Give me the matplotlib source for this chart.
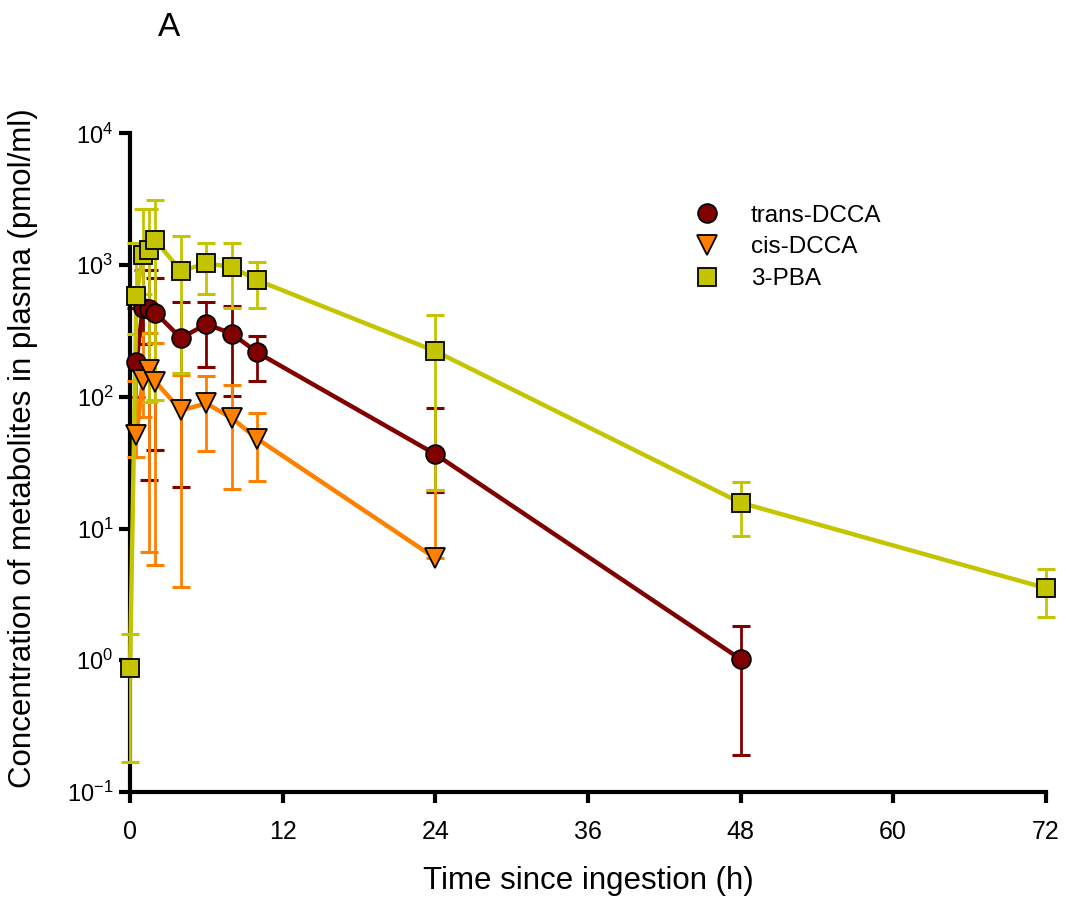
import matplotlib
matplotlib.use("Agg")
import matplotlib.pyplot as plt
from matplotlib.lines import Line2D

plt.rcParams['font.family'] = ['Liberation Sans', 'DejaVu Sans']

# data (pmol/ml)
trans_t = [0.5, 1, 1.5, 2, 4, 6, 8, 10, 24, 48]
trans_val = [184, 470, 462, 434, 279, 356, 302, 217, 36.7, 1.02]
trans_lo = [100, 250, 23.3, 39.4, 20.7, 168, 101, 131, 19, 0.19]
trans_hi = [470, 914, 914, 800, 522, 522, 487, 288, 82.4, 1.82]

cis_t = [0.5, 1, 1.5, 2, 4, 6, 8, 10, 24]
cis_val = [51, 134, 159, 130, 79, 89, 69, 48, 5.96]
cis_lo = [35, 70, 6.67, 5.27, 3.61, 38.8, 19.8, 22.9, 5.96]
cis_hi = [131, 305, 305, 255, 146, 144, 122, 74.7, 19.5]

pba_t = [0, 0.5, 1, 1.5, 2, 4, 6, 8, 10, 24, 48, 72]
pba_val = [0.87, 580, 1190, 1295, 1540, 900, 1030, 967, 767, 222, 15.7, 3.53]
pba_lo = [0.17, 300, 600, 91, 95, 151, 600, 470, 472, 19.5, 8.75, 2.13]
pba_hi = [1.58, 1460, 2650, 2650, 3100, 1670, 1470, 1470, 1056, 421, 22.5, 4.92]

x_ticks = [0, 12, 24, 36, 48, 60, 72]

series = [
    ('trans-DCCA', trans_t, trans_val, trans_lo, trans_hi, '#800000', 'o', 13.5),
    ('cis-DCCA', cis_t, cis_val, cis_lo, cis_hi, '#ff8000', 'v', 14.5),
    ('3-PBA', pba_t, pba_val, pba_lo, pba_hi, '#c4c400', 's', 13),
]

fig = plt.figure(figsize=(10.66, 9.01), dpi=100)
ax = fig.add_axes([0.122, 0.121, 0.859, 0.731])

handles = []
for i, (name, t, v, lo, hi, col, mk, ms) in enumerate(series):
    err = [[a - b for a, b in zip(v, lo)], [b - a for a, b in zip(v, hi)]]
    eb = ax.errorbar(t, v, yerr=err, fmt='none', ecolor=col, elinewidth=2,
                     capsize=6.5, capthick=2.2, zorder=2 + i)
    for art in eb.lines[1] + eb.lines[2]:
        art.set_clip_on(False)
    ax.plot(t, v, '-', color=col, linewidth=3.2, zorder=6, clip_on=False)
    ax.plot(t, v, linestyle='none', marker=mk, markersize=ms,
            markerfacecolor=col, markeredgecolor='black',
            markeredgewidth=1.3, zorder=8 + i, clip_on=False)
    handles.append(Line2D([], [], linestyle='none', marker=mk, markersize=ms,
                          markerfacecolor=col, markeredgecolor='black',
                          markeredgewidth=1.3, label=name))

ax.set_yscale('log')
ax.set_ylim(0.1, 1e4)
ax.set_xlim(0, 72)
ax.set_xticks(x_ticks)
ax.set_xticklabels([str(x) for x in x_ticks],
                   family=['Liberation Sans Narrow', 'Liberation Sans'])
ax.minorticks_off()

for s in ['top', 'right']:
    ax.spines[s].set_visible(False)
for s in ['left', 'bottom']:
    ax.spines[s].set_linewidth(3)
ax.tick_params(axis='both', direction='out', width=3, length=8)
ax.tick_params(axis='x', labelsize=18, pad=12)
ax.tick_params(axis='y', labelsize=17, pad=4)

ax.set_xlabel('Time since ingestion (h)', fontsize=22.5, labelpad=16)
ax.set_ylabel('Concentration of metabolites in plasma (pmol/ml)', fontsize=22.5)
ax.yaxis.set_label_coords(-0.1, 0.522)

ax.legend(handles=handles, loc='upper left', bbox_to_anchor=(0.58, 0.925),
          frameon=False, fontsize=17.5, handletextpad=0.8, labelspacing=0.4)

fig.text(0.148, 0.97, 'A', fontsize=24, va='center')

fig.savefig('out.png', dpi=100)
